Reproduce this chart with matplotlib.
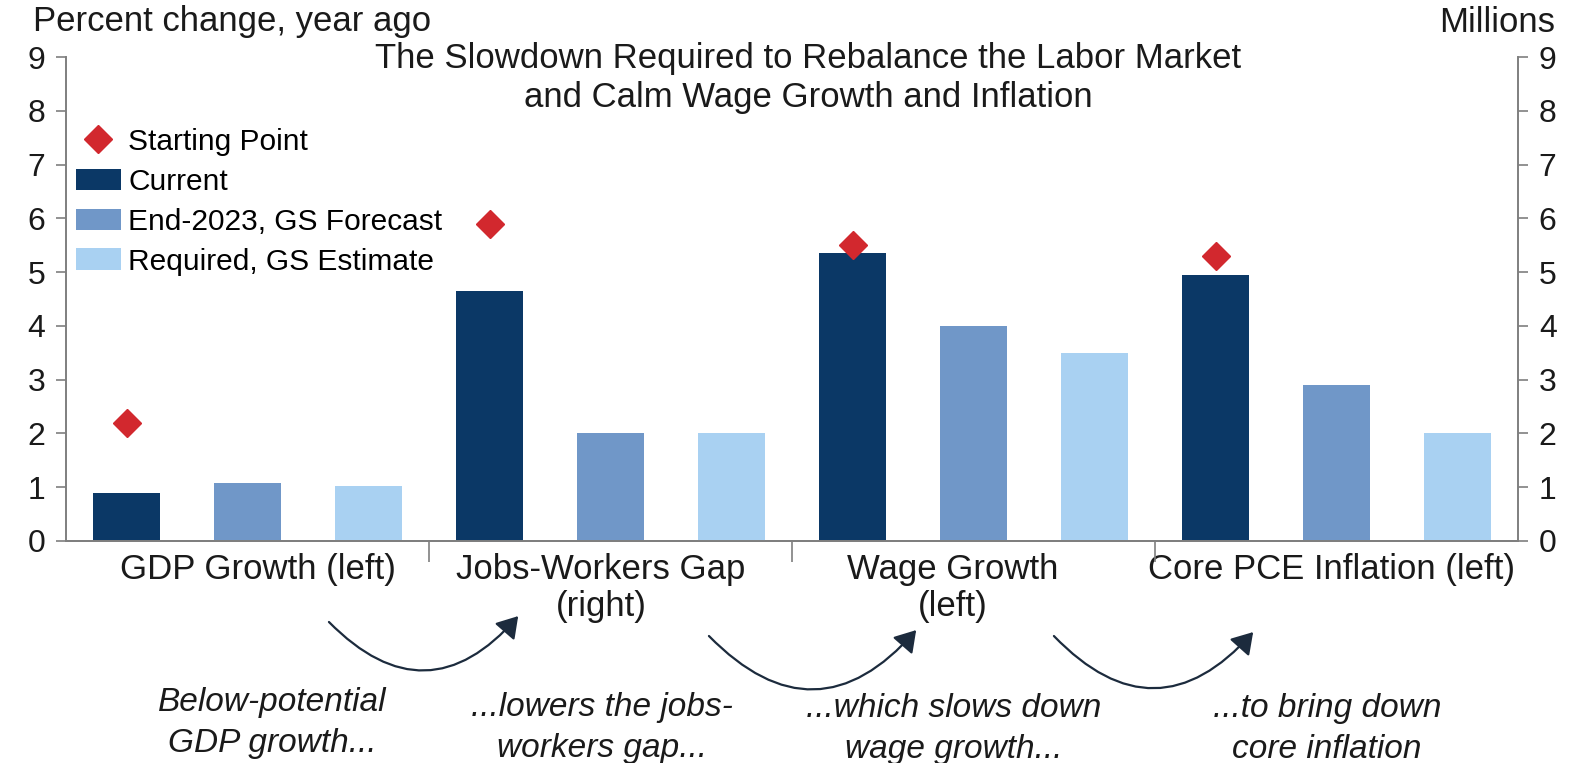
import matplotlib
matplotlib.use("Agg")
import matplotlib.pyplot as plt
import numpy as np
from matplotlib.patches import FancyArrowPatch, Patch
from matplotlib.lines import Line2D

plt.rcParams['font.family'] = ['Liberation Sans', 'DejaVu Sans']

# chart data
categories = ["GDP Growth (left)", "Jobs-Workers Gap\n(right)",
              "Wage Growth\n(left)", "Core PCE Inflation (left)"]
current = [0.9, 4.65, 5.35, 4.95]
forecast = [1.08, 2.0, 4.0, 2.9]
required = [1.02, 2.0, 3.5, 2.0]
starting = [2.2, 5.9, 5.5, 5.3]
series_names = ["Current", "End-2023, GS Forecast", "Required, GS Estimate"]
notes = ["Below-potential\nGDP growth...", "...lowers the jobs-\nworkers gap...",
         "...which slows down\nwage growth...", "...to bring down\ncore inflation"]

colors = ["#0b3866", "#7097c8", "#a9d1f2"]
red = "#d2282e"
axis_grey = "#7f7f7f"
ink = "#1a1a1a"

W, H = 1573, 763
fig = plt.figure(figsize=(W / 100, H / 100), dpi=100)


def fx(px):
    return px / W


def fy(py):
    return 1 - py / H


ax = fig.add_axes([fx(66), fy(541), fx(1518) - fx(66), fy(57) - fy(541)])
ax2 = ax.twinx()

n = len(categories)
base = np.arange(n) * 3
width = 0.555
right_axis = [False, True, False, False]

for g in range(n):
    target = ax2 if right_axis[g] else ax
    vals = [current[g], forecast[g], required[g]]
    for s in range(3):
        target.bar(base[g] + s, vals[s], width=width, color=colors[s], zorder=2)
    target.plot(base[g], starting[g], marker="D", markersize=14.5,
                color=red, linestyle="none", zorder=3)

for a in (ax, ax2):
    a.set_ylim(0, 9)
    a.set_xlim(-0.5, 3 * n - 0.5)
    a.set_yticks(range(10))
    a.spines["top"].set_visible(False)
    for side in ("left", "right", "bottom"):
        a.spines[side].set_color(axis_grey)
        a.spines[side].set_linewidth(1.4)
    a.tick_params(axis="y", length=7, width=1.2, color=axis_grey,
                  labelsize=23, labelcolor=ink, pad=8)

ax.spines["right"].set_visible(False)
ax2.spines["left"].set_visible(False)

# category labels sit between the separator ticks
label_x = [1.09, 3.92, 6.83, 9.96]
ax.set_xticks(label_x)
ax.set_xticklabels(categories, fontsize=25, color=ink, linespacing=1.12)
ax.tick_params(axis="x", which="major", length=0, pad=9)
ax.set_xticks(base[1:] - 0.5, minor=True)
ax.tick_params(axis="x", which="minor", length=15, width=1.2, color=axis_grey)

# legend
handles = [Line2D([], [], marker="D", color=red, linestyle="none", markersize=14.5)]
handles += [Patch(facecolor=c, edgecolor="none") for c in colors]
fig.legend(handles, ["Starting Point"] + series_names, loc="upper left",
           bbox_to_anchor=(fx(76), fy(128)), frameon=False, fontsize=21.5,
           handlelength=1.5, handleheight=0.75, handletextpad=0.25,
           labelspacing=0.4, borderpad=0, borderaxespad=0)

# titles and axis units
fig.text(fx(808), fy(78), "The Slowdown Required to Rebalance the Labor Market\n"
         "and Calm Wage Growth and Inflation", ha="center", va="center",
         fontsize=25, color=ink, linespacing=1.22)
fig.text(fx(33), fy(22), "Percent change, year ago", ha="left", va="center",
         fontsize=25, color=ink)
fig.text(fx(1555), fy(22), "Millions", ha="right", va="center",
         fontsize=25, color=ink)

# curved arrows linking the steps
arrows = [((327, 620), (520, 614)), ((707, 634), (918, 628)), ((1052, 634), (1255, 630))]
for (x0, y0), (x1, y1) in arrows:
    fig.patches.append(FancyArrowPatch(
        (fx(x0), fy(y0)), (fx(x1), fy(y1)), transform=fig.transFigure,
        connectionstyle="arc3,rad=0.55", arrowstyle="-|>,head_length=8,head_width=5",
        color="#1c2b3d", linewidth=1.6, mutation_scale=1.6))

note_pos = [(272, 723), (602, 728), (954, 729), (1327, 729)]
for (px, py), txt in zip(note_pos, notes):
    fig.text(fx(px), fy(py), txt, ha="center", va="center", fontsize=24,
             style="italic", color=ink, linespacing=1.4)

fig.savefig("out.png", dpi=100)
